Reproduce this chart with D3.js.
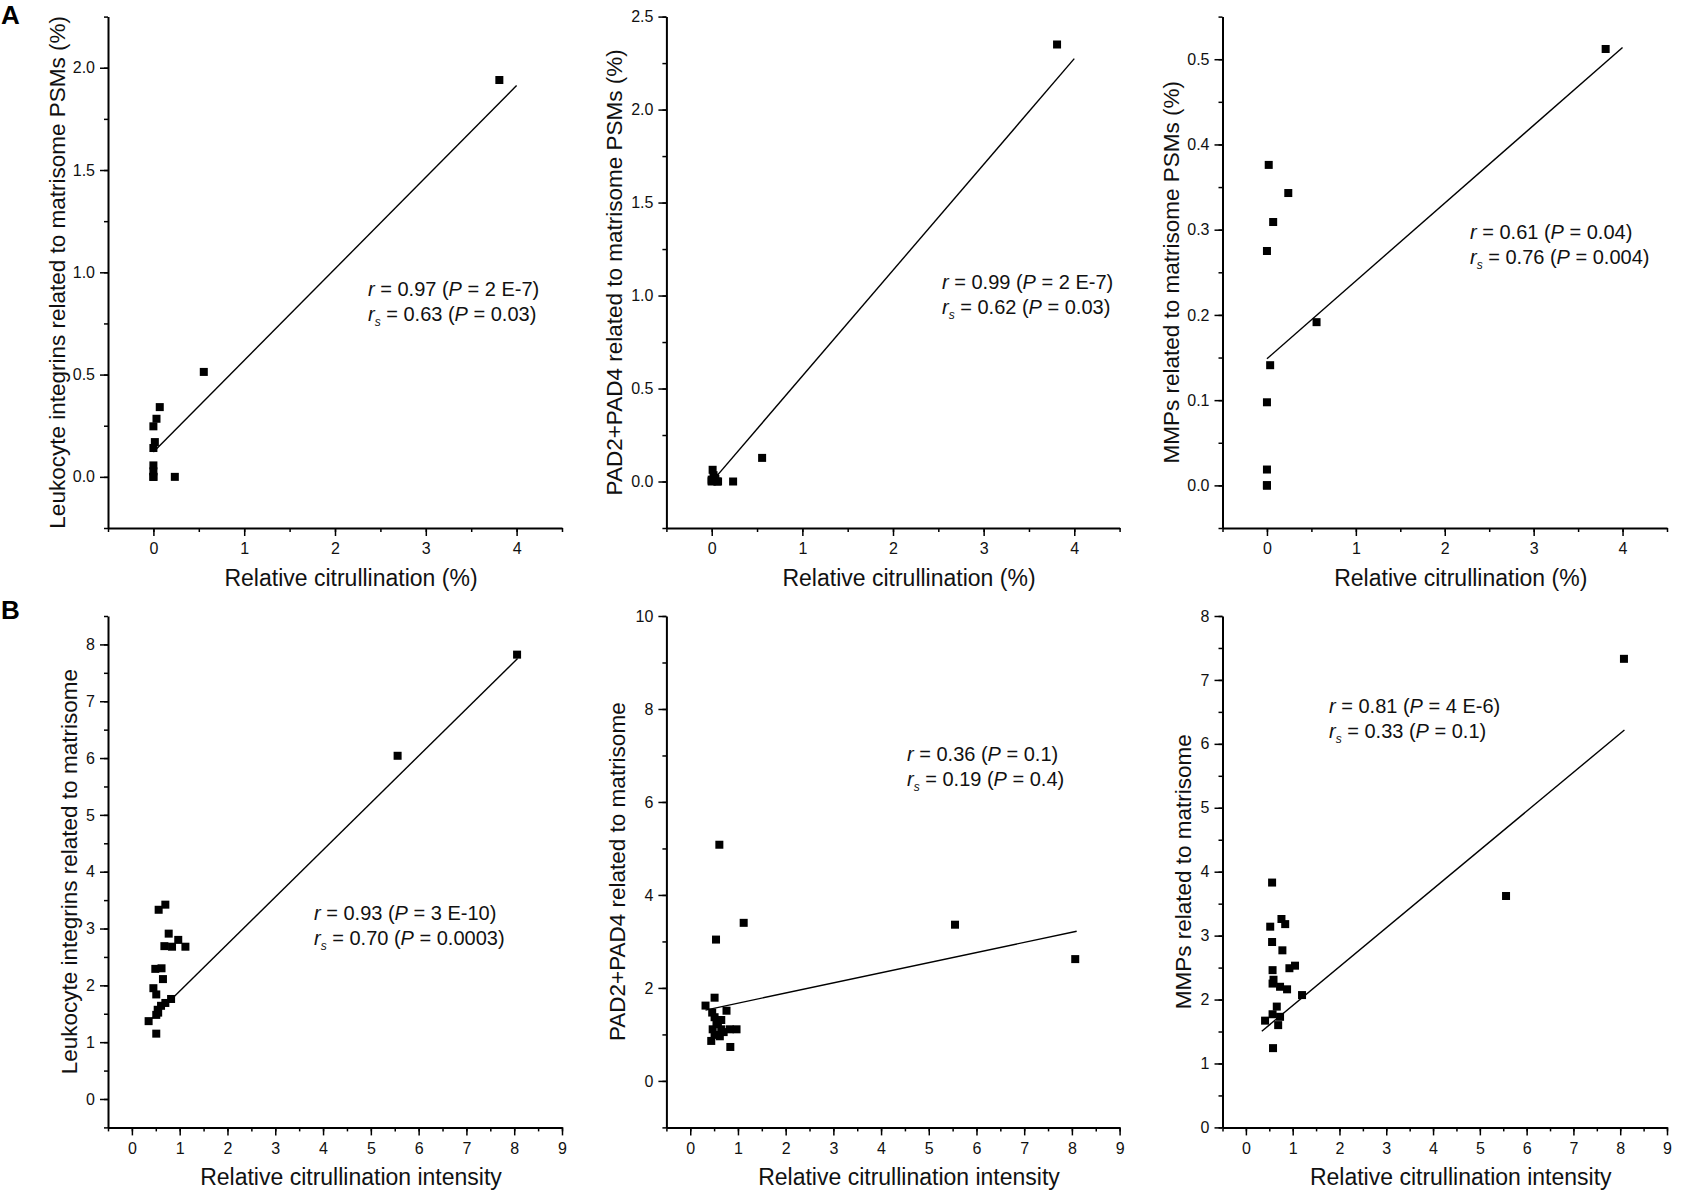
<!DOCTYPE html>
<html>
<head>
<meta charset="utf-8">
<script src="https://cdn.jsdelivr.net/npm/d3@7"></script>
<style>
  html, body { margin: 0; padding: 0; background: #fff; }
  svg { display: block; font-family: "Liberation Sans", Arial, sans-serif; }
</style>
</head>
<body>
<svg id="chart" width="1691" height="1195"></svg>
<script>
// ---- data ----
// A: relative citrullination (%) vs. PSM share (%)
var a1X = [3.81, 0.555, 0.07, 0.034, 0, 0.016, 0, 0, 0, 0, 0, 0.236];
var a1Y = [1.94, 0.513, 0.341, 0.284, 0.247, 0.170, 0.141, 0.056, 0.027, 0.0, 0.0, 0.0];
var a2X = [3.81, 0.556, 0.236, 0.01, 0.02, 0, 0.06, 0.04, 0, 0.03, 0.07, 0];
var a2Y = [2.35, 0.127, 0.0, 0.063, 0.034, 0.004, 0.0, 0.014, 0.0, 0.02, 0.0, 0.01];
var a3X = [3.81, 0.02, 0.24, 0.07, 0, 0.558, 0.036, 0, 0, 0, 0, 0];
var a3Y = [0.512, 0.376, 0.343, 0.309, 0.275, 0.1915, 0.141, 0.0975, 0.0186, 0.0, 0.0, 0.0];

// B: relative citrullination intensity vs. intensity ratio
var b1X = [8.06, 5.56, 0.70, 0.56, 0.77, 0.97, 0.68, 0.84, 1.12, 0.49, 0.62, 0.65, 0.45, 0.51, 0.82, 0.70, 0.61, 0.54, 0.51, 0.35, 0.51, 0.55];
var b1Y = [7.82, 6.04, 3.42, 3.33, 2.91, 2.80, 2.69, 2.68, 2.68, 2.29, 2.30, 2.11, 1.95, 1.84, 1.76, 1.69, 1.64, 1.57, 1.48, 1.37, 1.15, 1.52];
var b2X = [8.07, 5.55, 1.12, 0.61, 0.54, 0.51, 0.32, 0.76, 0.46, 0.51, 0.65, 0.47, 0.83, 0.97, 0.65, 0.51, 0.62, 0.44, 0.84, 0.58, 0.55, 0.70];
var b2Y = [2.62, 3.36, 3.40, 5.08, 3.04, 1.79, 1.62, 1.51, 1.47, 1.37, 1.31, 1.11, 1.11, 1.11, 1.11, 0.99, 0.96, 0.86, 0.73, 1.22, 1.25, 1.05];
var b3X = [8.08, 5.56, 0.56, 0.76, 0.84, 0.52, 0.56, 0.78, 1.05, 0.93, 0.57, 0.59, 0.57, 0.73, 0.88, 1.20, 0.66, 0.57, 0.73, 0.41, 0.69, 0.58];
var b3Y = [7.33, 3.62, 3.83, 3.26, 3.18, 3.14, 2.90, 2.77, 2.53, 2.49, 2.46, 2.31, 2.25, 2.20, 2.16, 2.07, 1.89, 1.77, 1.73, 1.67, 1.60, 1.24];

// linear fits (A1, A2, A3, B1, B2, B3)
var fitSlope = [0.448, 0.569, 0.0913, 0.828, 0.218, 0.608];
var fitIntercept = [0.121, -0.002, 0.1486, 1.07, 1.454, 1.298];
var fitFrom = [0, 0, 0, 0.35, 0.32, 0.34];
var fitTo = [4.0, 4.0, 4.0, 8.07, 8.1, 8.09];

// correlation annotations
var statR = ["0.97", "0.99", "0.61", "0.93", "0.36", "0.81"];
var statRP = ["2 E-7", "2 E-7", "0.04", "3 E-10", "0.1", "4 E-6"];
var statRs = ["0.63", "0.62", "0.76", "0.70", "0.19", "0.33"];
var statRsP = ["0.03", "0.03", "0.004", "0.0003", "0.4", "0.1"];

// axis titles
var yTitles = ["Leukocyte integrins related to matrisome PSMs (%)",
               "PAD2+PAD4 related to matrisome PSMs (%)",
               "MMPs related to matrisome PSMs (%)",
               "Leukocyte integrins related to matrisome",
               "PAD2+PAD4 related to matrisome",
               "MMPs related to matrisome"];
var xTitles = ["Relative citrullination (%)", "Relative citrullination (%)", "Relative citrullination (%)",
               "Relative citrullination intensity", "Relative citrullination intensity", "Relative citrullination intensity"];
var panelLetters = ["A", "B"];

// axis ranges and tick steps [minor, major]
var xDomains = [[-0.5, 4.5], [-0.5, 4.5], [-0.5, 4.5], [-0.5, 9], [-0.5, 9], [-0.5, 9]];
var yDomains = [[-0.25, 2.25], [-0.25, 2.5], [-0.05, 0.55], [-0.5, 8.5], [-1, 10], [0, 8]];
var xSteps = [[0.5, 1], [0.5, 1], [0.5, 1], [0.5, 1], [0.5, 1], [0.5, 1]];
var ySteps = [[0.25, 0.5], [0.25, 0.5], [0.05, 0.1], [0.5, 1], [1, 2], [0.5, 1]];
var yFormats = [".1f", ".1f", ".1f", "d", "d", "d"];

var panelX = [a1X, a2X, a3X, b1X, b2X, b3X];
var panelY = [a1Y, a2Y, a3Y, b1Y, b2Y, b3Y];

// ---- layout ----
var cols = [[108, 562], [666.4, 1119.6], [1222.5, 1667]];
var rows = [[16.6, 528], [616, 1127.4]];
var yTitleGap = [43, 44, 44, 31, 41, 32];
var notePos = [[368, 296], [942, 289], [1470, 239], [314, 920], [907, 761], [1329, 713]];

var svg = d3.select("#chart");

function stepValues(dom, step) {
    var n = Math.round((dom[1] - dom[0]) / step), out = [];
    for (var i = 0; i <= n; i++) out.push(Math.round((dom[0] + i * step) * 1e6) / 1e6);
    return out;
}
function majorOf(vals, step) {
    return vals.filter(function (v) {
        var q = v / step;
        return Math.abs(q - Math.round(q)) < 1e-6;
    });
}

panelLetters.forEach(function (l, i) {
    svg.append("text")
        .attr("x", 1).attr("y", i == 0 ? 24 : 619)
        .attr("font-size", 26).attr("font-weight", "bold")
        .text(l);
});

for (var p = 0; p < 6; p++) {
    var c = cols[p % 3], r = rows[Math.floor(p / 3)];
    var x = d3.scaleLinear().domain(xDomains[p]).range(c);
    var y = d3.scaleLinear().domain(yDomains[p]).range([r[1], r[0]]);
    var g = svg.append("g");

    var xMinor = stepValues(xDomains[p], xSteps[p][0]);
    var yMinor = stepValues(yDomains[p], ySteps[p][0]);
    var xMajor = majorOf(xMinor, xSteps[p][1]);
    var yMajor = majorOf(yMinor, ySteps[p][1]);

    // minor ticks
    g.append("g").attr("transform", "translate(0," + r[1] + ")")
        .call(d3.axisBottom(x).tickValues(xMinor).tickSize(4).tickSizeOuter(0).tickFormat(""))
        .call(function (s) { s.select(".domain").remove(); });
    g.append("g").attr("transform", "translate(" + c[0] + ",0)")
        .call(d3.axisLeft(y).tickValues(yMinor).tickSize(4).tickSizeOuter(0).tickFormat(""))
        .call(function (s) { s.select(".domain").remove(); });

    // major ticks + labels
    g.append("g").attr("transform", "translate(0," + r[1] + ")")
        .call(d3.axisBottom(x).tickValues(xMajor).tickSize(8).tickSizeOuter(0).tickPadding(7).tickFormat(d3.format("d")));
    g.append("g").attr("transform", "translate(" + c[0] + ",0)")
        .call(d3.axisLeft(y).tickValues(yMajor).tickSize(8).tickSizeOuter(0).tickPadding(5).tickFormat(d3.format(yFormats[p])));
    g.selectAll(".tick line").attr("stroke", "#000").attr("stroke-width", 1.5);
    g.selectAll(".tick text").attr("font-size", 16).attr("fill", "#111")
        .attr("font-family", "'Liberation Sans', Arial, sans-serif");
    g.selectAll(".domain").attr("stroke", "#000").attr("stroke-width", 2);

    // axis titles
    g.append("text")
        .attr("x", (c[0] + c[1]) / 2 + 16).attr("y", r[1] + 58)
        .attr("text-anchor", "middle").attr("font-size", 23).attr("fill", "#111")
        .text(xTitles[p]);
    g.append("text")
        .attr("transform", "translate(" + (c[0] - yTitleGap[p]) + "," + ((r[0] + r[1]) / 2) + ") rotate(-90)")
        .attr("text-anchor", "middle").attr("font-size", 22.5).attr("fill", "#111")
        .text(yTitles[p]);

    // fit line
    var sl = fitSlope[p], ic = fitIntercept[p];
    g.append("path")
        .datum([fitFrom[p], fitTo[p]])
        .attr("fill", "none").attr("stroke", "#000").attr("stroke-width", 1.4)
        .attr("d", d3.line()
            .x(function (d) { return x(d); })
            .y(function (d) { return y(ic + sl * d); }));

    // points
    var pts = panelX[p].map(function (v, i) { return [v, panelY[p][i]]; });
    g.selectAll("rect.pt")
        .data(pts)
        .enter()
        .append("rect")
        .attr("class", "pt")
        .attr("x", function (d) { return x(d[0]) - 4; })
        .attr("y", function (d) { return y(d[1]) - 4; })
        .attr("width", 8).attr("height", 8)
        .attr("fill", "#000");

    // correlation note
    var np = notePos[p];
    var t1 = g.append("text").attr("x", np[0]).attr("y", np[1]).attr("font-size", 20).attr("fill", "#111");
    t1.append("tspan").attr("font-style", "italic").text("r");
    t1.append("tspan").text(" = " + statR[p] + " (");
    t1.append("tspan").attr("font-style", "italic").text("P");
    t1.append("tspan").text(" = " + statRP[p] + ")");
    var t2 = g.append("text").attr("x", np[0]).attr("y", np[1] + 24.5).attr("font-size", 20).attr("fill", "#111");
    t2.append("tspan").attr("font-style", "italic").text("r");
    t2.append("tspan").attr("font-style", "italic").attr("font-size", 12).attr("dy", 5).text("s");
    t2.append("tspan").attr("dy", -5).text(" = " + statRs[p] + " (");
    t2.append("tspan").attr("font-style", "italic").text("P");
    t2.append("tspan").text(" = " + statRsP[p] + ")");
}
</script>
</body>
</html>
